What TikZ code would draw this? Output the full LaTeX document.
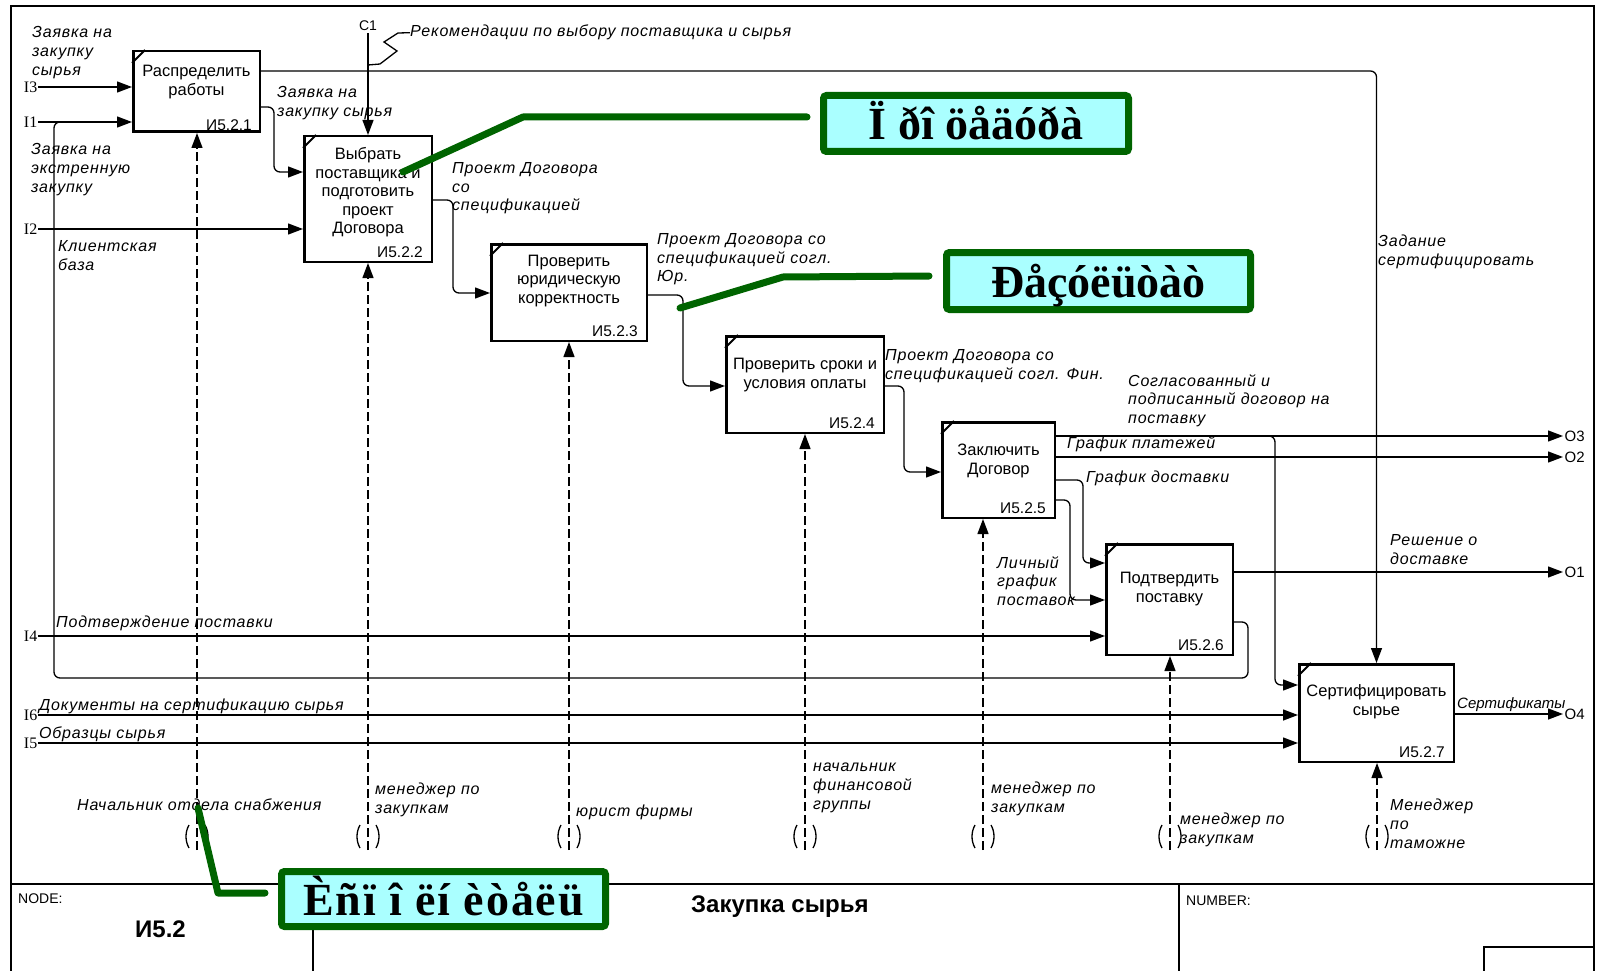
\documentclass[tikz,border=0pt]{standalone}
\usepackage{fontspec}
\setmainfont{Liberation Sans}
\newfontfamily\labfont{Liberation Sans}[LetterSpace=5]
\newfontfamily\portfont{Liberation Serif}
\newfontfamily\calfont{Liberation Serif}
\usetikzlibrary{arrows.meta,calc}
\definecolor{calfill}{RGB}{170,255,255}
\definecolor{calgreen}{RGB}{0,100,0}
\tikzset{
  box/.style={draw, line width=2.5pt, inner sep=0pt},
  boxtext/.style={font=\fontsize{16.5}{18.5}\selectfont, align=center, inner sep=0pt,
    execute at begin node=\strut, execute at end node=\strut},
  num/.style={font=\fontsize{15.5}{17}\selectfont, anchor=base east, inner sep=0pt},
  lab/.style={font=\labfont\itshape\fontsize{16}{18.8}\selectfont, align=left,
    anchor=north west, inner sep=0pt, yshift=8.9pt, execute at begin node=\strut},
  port/.style={font=\portfont\fontsize{16}{18}\selectfont, anchor=east, inner sep=0.5pt},
  oport/.style={font=\fontsize{15}{17}\selectfont, anchor=west, inner sep=1.5pt},
  flow/.style={line width=1.3pt, rounded corners=6pt, -{Triangle[length=15pt,width=11pt]}},
  plain/.style={line width=1.3pt, rounded corners=6pt},
  mech/.style={flow, dash pattern=on 9pt off 4pt},
  tunnel/.pic={
    \draw[line width=1.3pt] (-8,-25) .. controls (-12,-18) and (-12,-9) .. (-8,-2);
    \draw[line width=1.3pt] (8,-25) .. controls (12,-18) and (12,-9) .. (8,-2);},
  callout/.style={draw=calgreen, line width=7pt, fill=calfill, rounded corners=3pt,
    inner sep=0pt, text height=34pt, text depth=2pt,
    font=\calfont\bfseries\fontsize{46}{50}\selectfont},
  leader/.style={draw=calgreen, line width=7pt, line cap=round, line join=round},
  frame/.style={line width=1.5pt}
}
\begin{document}
\begin{tikzpicture}[x=1pt,y=-1pt]
\useasboundingbox (0,0) rectangle (1599,971);

% sheet frame and title block
\draw[frame] (11,980) -- (11,6) -- (1594,6) -- (1594,980);
\draw[frame] (11,884) -- (1594,884);
\draw[frame] (313,884) -- (313,980);
\draw[frame] (1179,884) -- (1179,980);
\draw[frame] (1484,980) -- (1484,947) -- (1594,947);
\node[anchor=base west, font=\fontsize{14}{16}\selectfont, inner sep=0pt] (nodelbl) at (18,903) {NODE:};
\node[anchor=base, font=\bfseries\fontsize{24}{26}\selectfont, inner sep=0pt] (nodeid) at (160.5,937) {И5.2};
\node[anchor=base west, font=\bfseries\fontsize{24}{26}\selectfont, inner sep=0pt] (title) at (691,912) {Закупка сырья};
\node[anchor=base west, font=\fontsize{14}{16}\selectfont, inner sep=0pt] (numlbl) at (1186,905) {NUMBER:};

% activity boxes
\node[box, minimum width=126.5pt, minimum height=80.5pt]  (b1) at (196.5,91.5) {};
\node[box, minimum width=127.5pt, minimum height=125.5pt] (b2) at (368,199) {};
\node[box, minimum width=155.5pt, minimum height=96.5pt]  (b3) at (569,292.5) {};
\node[box, minimum width=157.5pt, minimum height=96.5pt]  (b4) at (805,384.5) {};
\node[box, minimum width=112.5pt, minimum height=95.5pt]  (b5) at (998.5,470) {};
\node[box, minimum width=126.5pt, minimum height=110.5pt] (b6) at (1169.5,599.5) {};
\node[box, minimum width=154.5pt, minimum height=97.5pt]  (b7) at (1376.5,713) {};
\foreach \bx in {b1,b2,b3,b4,b5,b6,b7}
  \draw[line width=2pt] ([yshift=-13pt]\bx.north west) -- ([xshift=13pt]\bx.north west);

\node[boxtext] (t1) at (196.5,83)  {Распределить\\работы};
\node[boxtext] (t2) at (368,193.5) {Выбрать\\поставщика и\\подготовить\\проект\\Договора};
\node[boxtext] (t3) at (569,282)   {Проверить\\юридическую\\корректность};
\node[boxtext] (t4) at (805,376)   {Проверить сроки и\\условия оплаты};
\node[boxtext] (t5) at (998.5,462) {Заключить\\Договор};
\node[boxtext] (t6) at (1169.5,590) {Подтвердить\\поставку};
\node[boxtext] (t7) at (1376.5,703) {Сертифицировать\\сырье};

\node[num] (n1) at ([xshift=-9pt,yshift=2pt]b1.south east) {И5.2.1};
\node[num] (n2) at ([xshift=-10pt,yshift=6pt]b2.south east) {И5.2.2};
\node[num] (n3) at ([xshift=-10pt,yshift=6pt]b3.south east) {И5.2.3};
\node[num] (n4) at ([xshift=-10pt,yshift=6pt]b4.south east) {И5.2.4};
\node[num] (n5) at ([xshift=-10pt,yshift=6pt]b5.south east) {И5.2.5};
\node[num] (n6) at ([xshift=-10pt,yshift=6pt]b6.south east) {И5.2.6};
\node[num] (n7) at ([xshift=-10pt,yshift=6pt]b7.south east) {И5.2.7};

% boundary ports
\node[port] (pI3) at (38,87)  {I3};
\node[port] (pI1) at (38,122) {I1};
\node[port] (pI2) at (38,229) {I2};
\node[port] (pI4) at (38,636) {I4};
\node[port] (pI6) at (38,715) {I6};
\node[port] (pI5) at (38,743) {I5};
\node[oport] (pO3) at (1563,436) {O3};
\node[oport] (pO2) at (1563,457) {O2};
\node[oport] (pO1) at (1563,572) {O1};
\node[oport] (pO4) at (1563,714) {O4};
\node[font=\fontsize{14}{16}\selectfont, inner sep=0pt] (pC1) at (368,26) {C1};

% inputs
\draw[flow] (pI3.east) -- (b1.west |- pI3.east);
\draw[flow] (pI1.east) -- (b1.west |- pI1.east);
\draw[flow] (pI2.east) -- (b2.west |- pI2.east);
\draw[flow] (pI4.east) -- (b6.west |- pI4.east);
\draw[flow] (pI6.east) -- (b7.west |- pI6.east);
\draw[flow] (pI5.east) -- (b7.west |- pI5.east);

% controls
\draw[flow] ([yshift=-2pt]pC1.south) -- (b2.north);
\draw[flow] (b1.east |- 0,71) -- (b7.north |- 0,71) -- (b7.north);

% box to box flows
\draw[flow] (b1.east |- 0,107) -- (274,107) -- (274,172) -- (b2.west |- 0,172);
\draw[flow] (b2.east |- 0,200) -- (453,200) -- (453,293) -- (b3.west |- 0,293);
\draw[flow] (b3.east |- 0,295) -- (683,295) -- (683,386) -- (b4.west |- 0,386);
\draw[flow] (b4.east |- 0,386) -- (904,386) -- (904,472) -- (b5.west |- 0,472);
\draw[flow] (b5.east |- pO3.west) -- (pO3.west);
\draw[flow] (b5.east |- pO2.west) -- (pO2.west);
\draw[flow] (b5.east |- 0,480) -- (1083,480) -- (1083,563) -- (b6.west |- 0,563);
\draw[flow] (b5.east |- 0,500) -- (1070,500) -- (1070,600) -- (b6.west |- 0,600);
\coordinate (br3) at (1262,436);
\draw[flow] (br3) -- (1275,436) -- (1275,685) -- (b7.west |- 0,685);
\draw[flow] (b6.east |- pO1.west) -- (pO1.west);
\draw[plain] (b6.east |- 0,622) -- (1248,622) -- (1248,678) -- (54,678) -- (54,122) -- (66,122);
\draw[flow] (b7.east |- pO4.west) -- (pO4.west);

% mechanisms
\coordinate (m1) at (197,850);
\coordinate (m2) at (368,850);
\coordinate (m3) at (569,850);
\coordinate (m4) at (805,850);
\coordinate (m5) at (983,850);
\coordinate (m6) at (1170,850);
\coordinate (m7) at (1377,850);
\foreach \m/\bx in {m1/b1,m2/b2,m3/b3,m4/b4,m5/b5,m6/b6,m7/b7}{
  \draw[mech] (\m) -- (\m |- \bx.south);
  \pic at (\m) {tunnel};
}

% arrow labels
\node[lab] (lz1)  at (32,35)    {Заявка на\\закупку\\сырья};
\node[lab] (lz2)  at (31,152)   {Заявка на\\экстренную\\закупку};
\node[lab] (lkb)  at (58,249)   {Клиентская\\база};
\node[lab] (lz3)  at (277,95)   {Заявка на\\закупку сырья};
\node[lab] (lrek) at (410,32)   {Рекомендации по выбору поставщика и сырья};
\node[lab] (lpd1) at (452,171)  {Проект Договора\\со\\спецификацией};
\node[lab] (lpd2) at (657,242)  {Проект Договора со\\спецификацией согл.\\Юр.};
\node[lab] (lpd3) at (885,358)  {Проект Договора со\\спецификацией согл. Фин.};
\node[lab] (lsog) at (1128,383) {Согласованный и\\подписанный договор на\\поставку};
\node[lab] (lgp)  at (1067,444) {График платежей};
\node[lab] (lgd)  at (1086,478) {График доставки};
\node[lab] (lgl)  at (997,565)  {Личный\\график\\поставок};
\node[lab] (lzad) at (1378,244) {Задание\\сертифицировать};
\node[lab] (lres) at (1390,543) {Решение о\\доставке};
\node[lab] (lpp)  at (56,623)   {Подтверждение поставки};
\node[lab] (ldoc) at (39,706)   {Документы на сертификацию сырья};
\node[lab] (lobr) at (39,734)   {Образцы сырья};
\node[lab, font=\labfont\itshape\fontsize{15}{18.8}\selectfont\addfontfeature{LetterSpace=0}] (lsert) at (1457,704) {Сертификаты};
\node[lab] (lm1)  at (77,806)   {Начальник отдела снабжения};
\node[lab] (lm2)  at (375,792)  {менеджер по\\закупкам};
\node[lab] (lm3)  at (576,812)  {юрист фирмы};
\node[lab] (lm4)  at (813,772)  {начальник\\финансовой\\группы};
\node[lab] (lm5)  at (991,791)  {менеджер по\\закупкам};
\node[lab] (lm6)  at (1180,822) {менеджер по\\закупкам};
\node[lab] (lm7)  at (1390,808) {Менеджер\\по\\таможне};

% squiggle tying the C1 label to its arrow
\coordinate (sq) at (368,65);
\draw[line width=1.3pt] (sq) -- (380,64) -- (397,51) -- (384,42) -- (398,33) -- (lrek.west);

% callouts
\node[callout, minimum width=305pt, minimum height=56pt] (k1) at (976,123.5) {Ï ðî öåäóðà};
\node[callout, minimum width=304pt, minimum height=57pt] (k2) at (1098.5,281) {Ðåçóëüòàò};
\node[callout, minimum width=324pt, minimum height=55pt] (k3) at (443.5,899) {\addfontfeature{LetterSpace=4}Èñï î ëí èòåëü};
\coordinate (a1) at (403,172);
\coordinate (a2) at (680,308);
\coordinate (a3) at (198,808);
\draw[leader] (a1) -- (523,117) -- ($(k1.west)+(-13,-6.5)$);
\draw[leader] (a2) -- (783,277) -- ($(k2.west)+(-14,-5)$);
\draw[leader] (a3) -- (218,893) -- ($(k3.west)+(-13,-6)$);
\end{tikzpicture}
\end{document}
